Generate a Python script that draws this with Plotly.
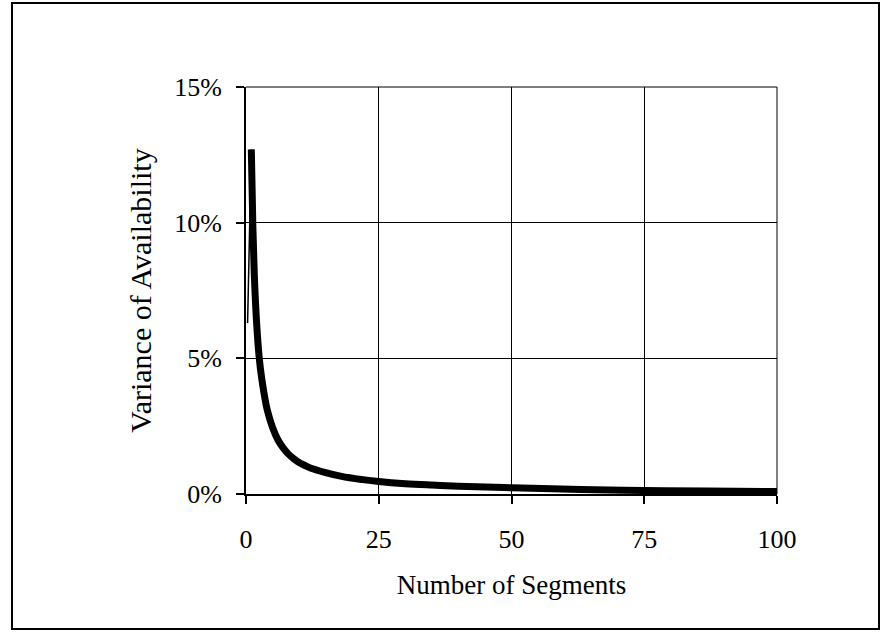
import plotly.graph_objects as go

# Data
segments = [1, 1.3, 1.6, 2, 2.5, 3, 3.5, 4, 5, 6, 7, 8, 9, 10, 11, 12, 15, 18,
            22, 25, 30, 35, 40, 50, 63, 75, 87, 100]
variance_pct = [12.7, 9.8, 7.9, 6.3, 5.0, 4.2, 3.6, 3.1, 2.45, 2.0, 1.7, 1.47, 1.3,
                1.16, 1.06, 0.97, 0.79, 0.65, 0.53, 0.46, 0.38, 0.33, 0.29, 0.23,
                0.17, 0.13, 0.11, 0.09]
lead_x = [0.3, 1]
lead_y = [6.3, 12.7]

x_ticks = [0, 25, 50, 75, 100]
y_ticks = [0, 5, 10, 15]
y_tick_labels = ["0%", "5%", "10%", "15%"]

W, H = 882, 632
L, R, T, B = 246, 105, 87, 138
pw, ph = W - L - R, H - T - B

def px_x(p):
    return (p - L) / pw

def px_y(p):
    return (H - B - p) / ph

fig = go.Figure()
fig.add_trace(go.Scatter(x=lead_x, y=lead_y, mode="lines",
                         line=dict(color="black", width=1.5), showlegend=False))
fig.add_trace(go.Scatter(x=segments, y=variance_pct, mode="lines",
                         line=dict(color="black", width=7, shape="spline", smoothing=1.0),
                         showlegend=False))

font_family = "Liberation Serif, Times New Roman, serif"

fig.update_layout(
    width=W, height=H,
    margin=dict(l=L, r=R, t=T, b=B),
    paper_bgcolor="white", plot_bgcolor="white",
    font=dict(family=font_family, color="black", size=20),
    xaxis=dict(
        range=[0, 100], tickvals=x_ticks, ticktext=[str(v) for v in x_ticks],
        showgrid=True, gridcolor="black", gridwidth=1,
        zeroline=False, showline=True, linecolor="black", linewidth=2,
        ticks="outside", ticklen=8, tickcolor="black", tickwidth=1.5,
        ticklabelstandoff=13, tickfont=dict(size=26),
        title=dict(text="Number of Segments", font=dict(size=27), standoff=22),
    ),
    yaxis=dict(
        range=[0, 15], tickvals=y_ticks, ticktext=y_tick_labels,
        showgrid=True, gridcolor="black", gridwidth=1,
        zeroline=False, showline=True, linecolor="black", linewidth=2,
        ticks="outside", ticklen=8, tickcolor="black", tickwidth=1.5,
        ticklabelstandoff=9, tickfont=dict(size=26),
        title=dict(text="Variance of Availability", font=dict(size=30), standoff=14),
    ),
    shapes=[
        dict(type="rect", xref="paper", yref="paper",
             x0=px_x(12), x1=px_x(879), y0=px_y(629), y1=px_y(3),
             line=dict(color="black", width=2), fillcolor="rgba(0,0,0,0)", layer="below"),
        dict(type="line", xref="paper", yref="paper",
             x0=1, x1=1, y0=0, y1=1, line=dict(color="black", width=1)),
        dict(type="line", xref="paper", yref="paper",
             x0=0, x1=1, y0=1, y1=1, line=dict(color="black", width=1)),
    ],
)

fig.write_html("out.html", config={"displayModeBar": False},
               post_script="document.body.style.margin='0';")
